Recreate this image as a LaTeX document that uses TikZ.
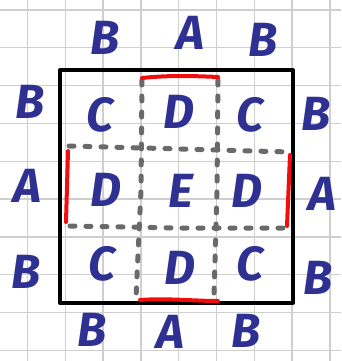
\documentclass[tikz,border=0pt]{standalone}
\usepackage{fontspec}
\usepackage{xcolor}
\usepackage{tikz}
\usetikzlibrary{calc}
\newfontfamily\handfont{Fira Sans}
\definecolor{inkblue}{HTML}{2E3192}
\definecolor{inkred}{HTML}{F20D0D}
\definecolor{inkgray}{HTML}{6A6A6A}
\definecolor{papergrid}{HTML}{CFCFCF}
\tikzset{
  gridline/.style={papergrid, line width=1.4pt},
  frame/.style={black, line width=4pt, line join=round},
  cutline/.style={inkgray, line width=5pt, line cap=round, dash pattern=on 5pt off 11pt},
  rededge/.style={inkred, line width=4pt, line cap=round},
  letter/.style={inkblue, inner sep=0pt, font=\handfont\bfseries\itshape\fontsize{48}{48}\selectfont}
}
\begin{document}
\begin{tikzpicture}[x=1pt, y=-1pt]
  \useasboundingbox (0,0) rectangle (341,361);
  \fill[white] (0,0) rectangle (341,361);
  % squared paper
  \foreach \i in {0,...,8}{
    \draw[gridline] ({27.5+37.8*\i},0)--({27.5+37.8*\i},361);
  }
  \foreach \j in {0,...,9}{
    \draw[gridline] (0,{10+37.8*\j})--(341,{10+37.8*\j});
  }
  % the square and its cuts
  \draw[frame] (60,70) rectangle (293,303);
  \draw[cutline] (142,80)--(141,190)--(136,298);
  \draw[cutline] (218,80)--(217,190)--(214,296);
  \draw[cutline] (69,146)--(180,149)--(290,152);
  \draw[cutline] (70,226)--(180,228)--(291,228);
  \draw[rededge] (142,78) .. controls (170,75) and (195,76) .. (218,77);
  \draw[rededge] (140,300) .. controls (165,298) and (195,301) .. (218,301);
  \draw[rededge] (68,151)--(66,222);
  \draw[rededge] (290,155)--(287,226);
  % labels outside
  \node[letter] (tB1) at (105,38) {B};
  \node[letter] (tA) at (190,33) {A};
  \node[letter] (tB2) at (263,40) {B};
  \node[letter] (lB1) at (30,102) {B};
  \node[letter] (lA) at (27,186) {A};
  \node[letter] (lB2) at (26,272) {B};
  \node[letter] (rB1) at (316,114) {B};
  \node[letter] (rA) at (322,194) {A};
  \node[letter] (rB2) at (318,278) {B};
  \node[letter] (bB1) at (92,330) {B};
  \node[letter] (bA) at (170,332) {A};
  \node[letter] (bB2) at (246,331) {B};
  % labels inside
  \node[letter] (c11) at (100,115) {C};
  \node[letter] (c12) at (179,112) {D};
  \node[letter] (c13) at (250,115) {C};
  \node[letter] (c21) at (106,190) {D};
  \node[letter] (c22) at (181,191) {E};
  \node[letter] (c23) at (247,191) {D};
  \node[letter] (c31) at (102,264) {C};
  \node[letter] (c32) at (180,268) {D};
  \node[letter] (c33) at (250,264) {C};
\end{tikzpicture}
\end{document}
